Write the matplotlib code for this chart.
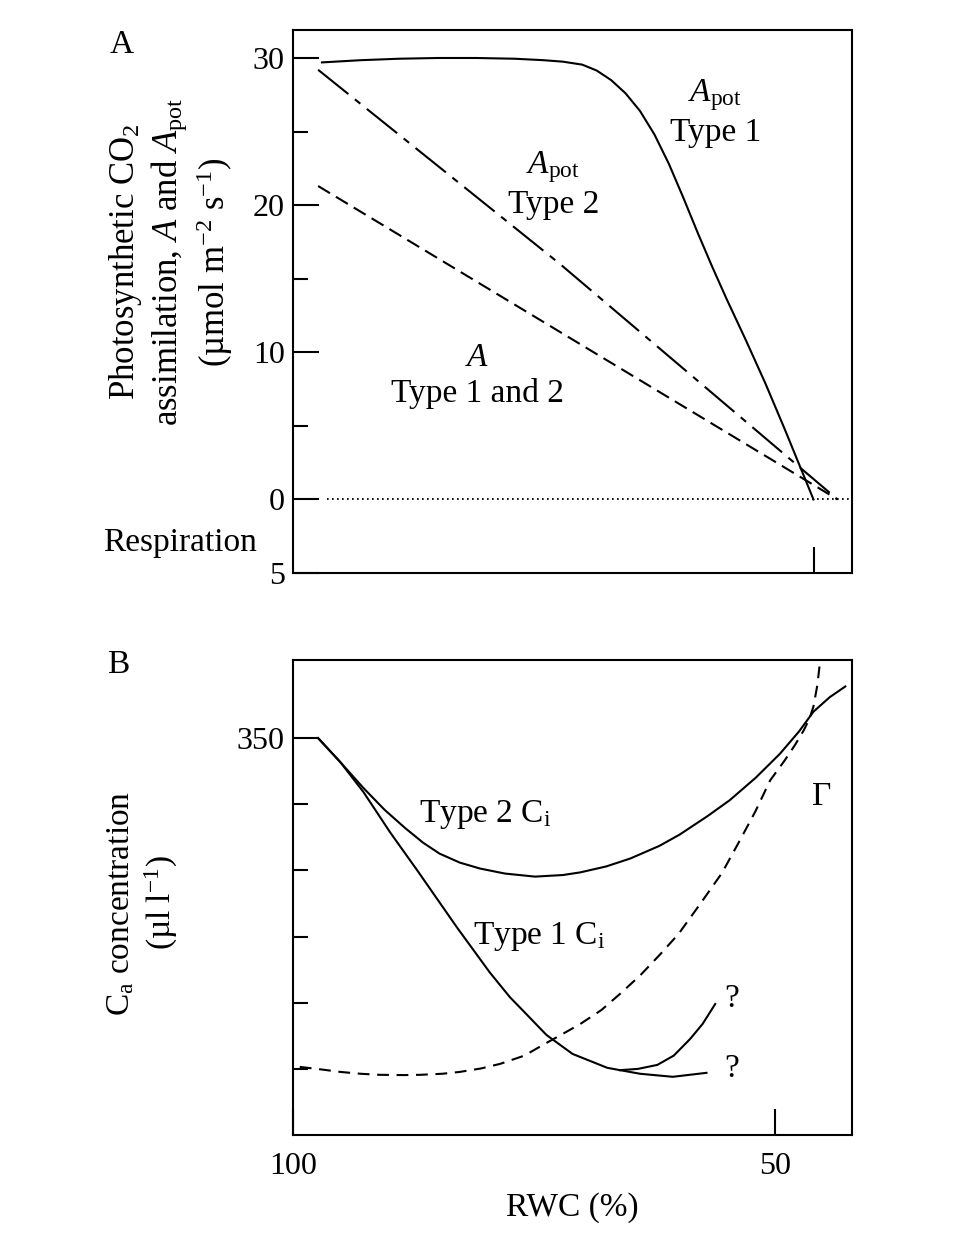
# Photosynthesis and C_i versus relative water content (RWC), two panels

import numpy as np
import matplotlib.pyplot as plt

plt.rcParams['font.family'] = ['Liberation Serif', 'DejaVu Serif']
plt.rcParams['mathtext.fontset'] = 'custom'
plt.rcParams['mathtext.rm'] = 'Liberation Serif'
plt.rcParams['mathtext.it'] = 'Liberation Serif:italic'
plt.rcParams['lines.scale_dashes'] = False

# ----- Panel A data (RWC %, umol m-2 s-1) ----- #
rwc_apot1 = [97, 93, 89, 85, 81, 77, 74, 72, 70, 68.5, 67, 65.5, 64, 62.5, 61,
             59.5, 58, 56.5, 55, 53, 51, 49, 47.5, 46]
apot1 = [29.7, 29.85, 29.95, 30.0, 30.0, 29.95, 29.85, 29.75, 29.55, 29.15, 28.5,
         27.6, 26.4, 24.8, 22.8, 20.5, 18.1, 15.8, 13.6, 10.8, 7.9, 4.8, 2.4, 0]
rwc_apot2 = [97.4, 72.3, 43.5]
apot2 = [29.2, 16.0, 0]
rwc_a = [97.4, 43.5]
a_both = [21.3, 0]
rwc_zero = [96.5, 42]
zero_line = [0, 0]
rwc_a_tick = 45.9  # where Apot type 1 reaches zero

# ----- Panel B data (RWC %, ul l-1) ----- #
rwc_ci2 = [97.4, 95.1, 92.7, 90.5, 88.4, 86.5, 84.8, 82.7, 80.6, 78.0, 74.9, 72,
           70.2, 67.5, 65, 62, 59.9, 57, 54.7, 52, 49.5, 47.5, 46.0, 44.3, 42.7]
ci2 = [350, 331.9, 312.3, 295.8, 282.2, 270.9, 262.7, 255.9, 251.4, 247.6, 245.3,
       246.5, 248.5, 253, 259, 268.5, 277, 291, 303, 320, 338, 355, 370, 381, 389]
rwc_ci1 = [97.4, 95.1, 92.7, 89.9, 87.1, 83.0, 79.6, 77.5, 76.1, 73.7, 71.0, 67.4,
           64.0, 60.6, 57.1]
ci1 = [350, 331.9, 309.3, 278.5, 249.9, 207.0, 173.0, 154.2, 143.7, 125.6, 111.3,
       100.8, 96.3, 94.0, 97.0]
rwc_ci1_up = [66.1, 64.2, 62.2, 60.5, 58.8, 57.5, 56.2]
ci1_up = [99.0, 100.0, 103, 110, 122.6, 134, 149]
rwc_gamma = [99.3, 97, 95.1, 93, 91, 88.5, 86.8, 84.5, 82.7, 80.5, 78.5, 76, 73.9,
             72, 70.2, 68, 66.1, 64, 61.9, 60, 57.8, 55.5, 53.6, 52, 50.5, 49,
             47.9, 47, 46.4, 46.0, 45.6, 45.3]
gamma = [101.5, 99.5, 97.7, 96.3, 95.5, 95.3, 95.5, 96.3, 97.7, 100.3, 103.8, 110,
         118.8, 126.5, 133.9, 144.5, 156.5, 170.5, 186.6, 202, 224.2, 248, 273.2,
         295, 318, 333, 345, 356, 365, 374, 390, 409]

FS = 24
TFS = 23
LW = 1.5

fig = plt.figure(figsize=(9.62, 12.36), dpi=100)
axA = fig.add_axes([0.3046, 0.5364, 0.5811, 0.4393])
axB = fig.add_axes([0.3046, 0.0817, 0.5811, 0.3843])

for ax in (axA, axB):
    ax.set_xlim(100, 42)
    for s in ax.spines.values():
        s.set_linewidth(1.5)
    ax.tick_params(which='both', direction='in', width=1.5, labelsize=TFS,
                   top=False, right=False)
    ax.tick_params(which='major', length=19, pad=6)
    ax.tick_params(which='minor', length=11)

# ----- Panel A ----- #
axA.plot(rwc_apot1, apot1, color='black', lw=LW)
axA.plot(rwc_apot2, apot2, color='black', lw=LW, dashes=(28, 6, 5, 6))
axA.plot(rwc_a, a_both, color='black', lw=LW, dashes=(10, 5))
axA.plot(rwc_zero, zero_line, color='black', lw=1.3, dashes=(1.2, 2.4))
axA.set_ylim(-5, 31.9)
axA.set_yticks([30, 20, 10, 0, -5])
axA.set_yticklabels(['30', '20', '10', '0', '5'])
axA.set_yticks([25, 15, 5], minor=True)
axA.set_xticks([rwc_a_tick])
axA.set_xticklabels([])

axA.text(56.2, 26.3, '$A_{\\rm pot}$\nType 1', ha='center', va='center', fontsize=FS)
axA.text(73.0, 21.4, '$A_{\\rm pot}$\nType 2', ha='center', va='center', fontsize=FS)
axA.text(80.9, 8.4, '$A$\nType 1 and 2', ha='center', va='center', fontsize=FS)

fig.text(122 / 962, 1 - 45 / 1236, 'A', ha='center', va='center', fontsize=FS)
fig.text(257 / 962, 1 - 543 / 1236, 'Respiration', ha='right', va='center', fontsize=FS)
fig.text(171 / 962, 1 - 262 / 1236,
         'Photosynthetic CO$_2$\nassimilation, $A$ and $A_{\\rm pot}$\n(µmol m$^{-2}$ s$^{-1}$)',
         rotation=90, ha='center', va='center', multialignment='center',
         fontsize=25, linespacing=1.2)

# ----- Panel B ----- #
axB.plot(rwc_ci2, ci2, color='black', lw=LW)
axB.plot(rwc_ci1, ci1, color='black', lw=LW)
axB.plot(rwc_ci1_up, ci1_up, color='black', lw=LW)
axB.plot(rwc_gamma, gamma, color='black', lw=LW, dashes=(8.5, 5.5))
axB.set_ylim(50, 409)
axB.set_yticks([350])
axB.set_yticks([300, 250, 200, 150, 100], minor=True)
axB.set_xticks([100, 50])
axB.set_xticklabels(['100', '50'])
axB.tick_params(axis='x', pad=12)
axB.set_xlabel('RWC (%)', fontsize=FS, labelpad=8)

axB.text(80.1, 292, 'Type 2 C$_{\\rm i}$', ha='center', va='center', fontsize=FS)
axB.text(74.4, 200, 'Type 1 C$_{\\rm i}$', ha='center', va='center', fontsize=FS)
axB.text(45.1, 305.6, 'Γ', ha='center', va='center', fontsize=FS)
axB.text(54.5, 152.7, '?', ha='center', va='center', fontsize=FS)
axB.text(54.5, 100, '?', ha='center', va='center', fontsize=FS)

fig.text(118 / 962, 1 - 665 / 1236, 'B', ha='center', va='center', fontsize=FS)
fig.text(143 / 962, 1 - 903 / 1236, 'C$_{\\rm a}$ concentration\n(µl l$^{-1}$)',
         rotation=90, ha='center', va='center', multialignment='center',
         fontsize=FS, linespacing=1.25)

fig.savefig('out.png', dpi=100)
